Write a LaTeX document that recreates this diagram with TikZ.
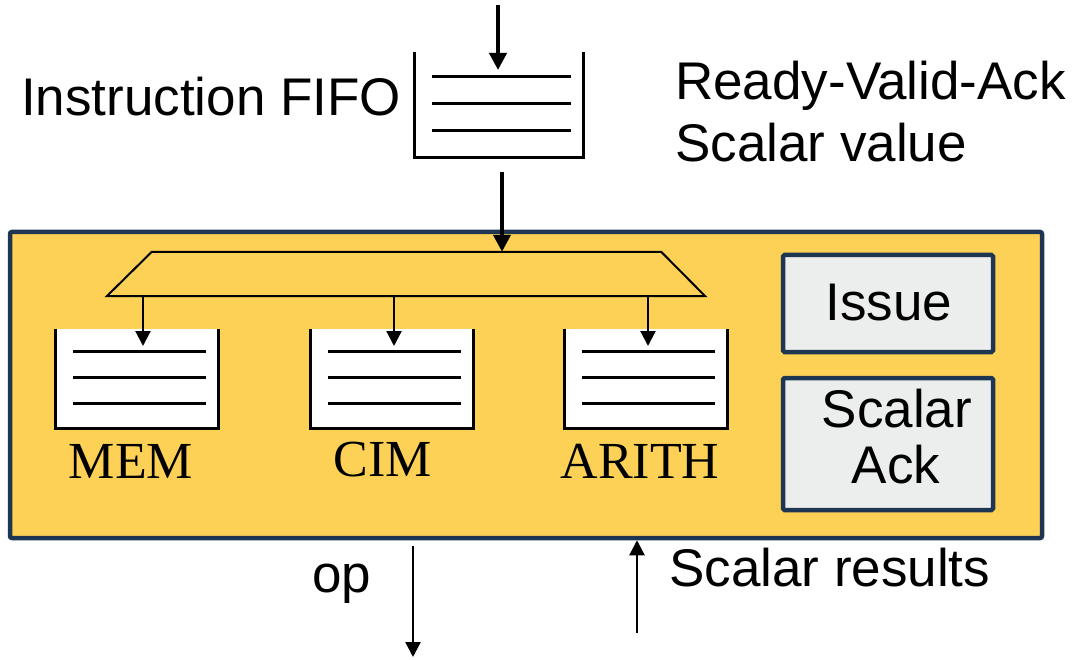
\documentclass[tikz,border=0pt]{standalone}
\usepackage{fontspec}
\setmainfont{Liberation Sans}
\newfontfamily\serifface{Liberation Serif}
\usetikzlibrary{arrows.meta,calc}
\definecolor{unitfill}{HTML}{FDD156}
\definecolor{unitedge}{HTML}{1F3652}
\definecolor{panelfill}{HTML}{ECEEED}

% open-topped queue: walls, floor and three entries
\newcommand\queuewalls[1]{%
  \draw[queuewall] (#1.north west) -- (#1.south west) -- (#1.south east) -- (#1.north east);
  \foreach \f in {0.23,0.49,0.75}
    \draw[queueline] ($(#1.north west)!\f!(#1.south west)+(17,0)$) --
                     ($(#1.north east)!\f!(#1.south east)+(-12,0)$);
}

\begin{document}
\begin{tikzpicture}[x=1pt,y=-1pt,
  sanslabel/.style={font=\fontsize{53}{60}\selectfont, inner sep=0pt},
  seriflabel/.style={font=\serifface\fontsize{52}{60}\selectfont, inner sep=0pt},
  queuenode/.style={draw=none, inner sep=0pt},
  queuewall/.style={line width=3.2pt, line join=miter, black},
  queueline/.style={line width=3pt, black},
  thickarrow/.style={line width=4pt, -{Triangle[length=17pt,width=17pt]}},
  thinarrow/.style={line width=2.2pt, -{Triangle[length=15pt,width=15pt]}},
  busline/.style={line width=2pt, line join=miter},
  unitbox/.style={draw=unitedge, fill=unitfill, line width=4.5pt, rounded corners=2pt, inner sep=0pt},
  panel/.style={draw=unitedge, fill=panelfill, line width=4.5pt, rounded corners=1.5pt, inner sep=0pt}
]
\useasboundingbox (0,0) rectangle (1076,660);

% instruction queue on top
\node[queuenode, minimum width=168pt, minimum height=105pt] (ififo) at (499,104.5) {};
\queuewalls{ififo}
\node[sanslabel, anchor=base west] (ififoL) at (21,116) {Instruction FIFO};
\node[sanslabel, anchor=base west] (rva) at (675,100) {Ready-Valid-Ack};
\node[sanslabel, anchor=base west] (sval) at (675,162) {Scalar value};

\coordinate (topIn) at (498,5);
\coordinate (ififoIn) at (498,70);
\draw[thickarrow] (topIn) -- (ififoIn);

% dispatch unit
\node[unitbox, minimum width=1032pt, minimum height=306pt] (unit) at (526,385) {};

\node[queuenode, minimum width=598pt, minimum height=44pt] (disp) at (406,274) {};
\draw[busline] ($(disp.north west)+(45,0)$) -- ($(disp.north east)+(-44,0)$)
  -- (disp.south east) -- (disp.south west) -- cycle;

\coordinate (ififoOut) at (502,172);
\draw[thickarrow] (ififoOut) -- (ififoOut |- disp.north);

% per-class queues
\node[queuenode, fill=white, minimum width=162pt, minimum height=99pt] (memq) at (137,378.5) {};
\node[queuenode, fill=white, minimum width=162pt, minimum height=99pt] (cimq) at (392,378.5) {};
\node[queuenode, fill=white, minimum width=162pt, minimum height=99pt] (arq) at (646,378.5) {};
\queuewalls{memq}
\queuewalls{cimq}
\queuewalls{arq}

\coordinate (memIn) at (143,346);
\coordinate (cimIn) at (394,346);
\coordinate (arIn) at (648,346);
\draw[thinarrow] (memIn |- disp.south) -- (memIn);
\draw[thinarrow] (cimIn |- disp.south) -- (cimIn);
\draw[thinarrow] (arIn |- disp.south) -- (arIn);

\node[seriflabel, anchor=base] (memL) at (131,478) {MEM};
\node[seriflabel, anchor=base] (cimL) at (383,476) {CIM};
\node[seriflabel, anchor=base] (arL) at (640,478) {ARITH};

% control panels
\node[panel, minimum width=210pt, minimum height=97pt] (issue) at (888,303.5) {};
\node[sanslabel] (issueL) at (889,303) {Issue};
\node[panel, minimum width=210pt, minimum height=132pt] (ack) at (888,444) {};
\node[sanslabel, anchor=base] (ackL1) at (897,427) {Scalar};
\node[sanslabel, anchor=base] (ackL2) at (896,483) {Ack};

% outputs and returned results
\coordinate (opStart) at (413,546);
\coordinate (opEnd) at (413,657);
\draw[thinarrow] (opStart) -- (opEnd);
\node[sanslabel, anchor=base west] (opL) at (312,592) {op};

\coordinate (resStart) at (637,633);
\draw[thinarrow] (resStart) -- (resStart |- unit.south);
\node[sanslabel, anchor=base west] (resL) at (669,586) {Scalar results};
\end{tikzpicture}
\end{document}
